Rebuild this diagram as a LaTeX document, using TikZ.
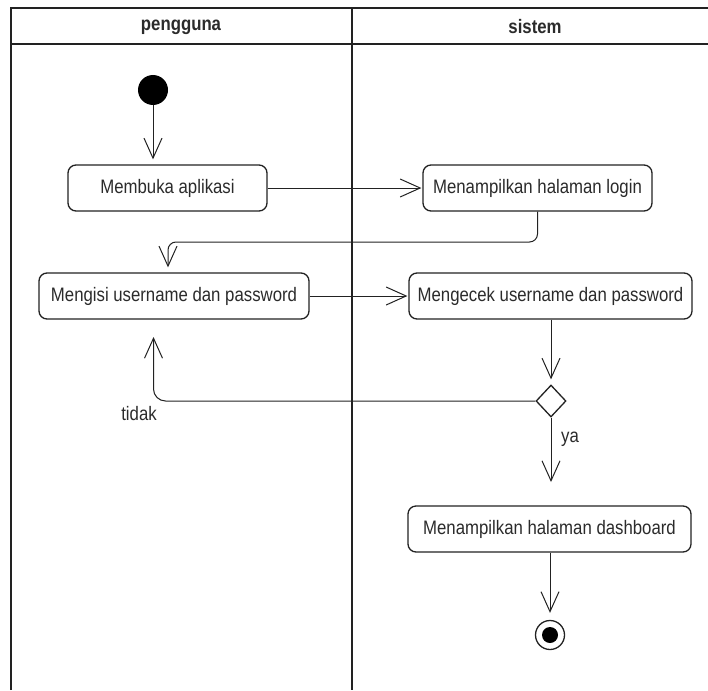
\documentclass[tikz,border=0pt]{standalone}
\usepackage{fontspec}
\setmainfont{Liberation Sans}
\usetikzlibrary{arrows.meta,shapes.geometric}
\definecolor{ink}{HTML}{222222}
\definecolor{txt}{HTML}{2B2B2B}
% narrow text, as set by the diagram editor
\newcommand\narrow[1]{\scalebox{0.86}[1]{#1}}
\begin{document}
\begin{tikzpicture}[x=1pt,y=-1pt,
  every node/.style={font=\fontsize{19.5}{22}\selectfont, text=txt},
  action/.style={draw=ink, line width=1.3pt, rounded corners=8pt, inner sep=0pt, minimum height=46pt},
  flow/.style={draw=ink, line width=1pt, -{Straight Barb[length=20pt, width=18pt, line width=1pt]}},
  lane/.style={draw=ink, line width=1.6pt},
  lanetitle/.style={font=\fontsize{19.5}{22}\selectfont\bfseries, text=txt}]
\useasboundingbox (0,0) rectangle (708,690);
\fill[white] (0,0) rectangle (708,690);

% swimlanes
\draw[lane] (11,690) -- (11,8) -- (708,8);
\draw[lane] (11,44) -- (708,44);
\draw[lane] (352,8) -- (352,690);
\node[lanetitle] (lane1) at (181,27) {\narrow{pengguna}};
\node[lanetitle] (lane2) at (535,27) {\narrow{sistem}};

% activities
\node[circle, fill=black, minimum size=30pt, inner sep=0pt] (start) at (153,90) {};
\node[action, minimum width=199pt] (buka) at (167.5,188) {\narrow{Membuka aplikasi}};
\node[action, minimum width=229pt] (login) at (537.5,188) {\narrow{Menampilkan halaman login}};
\node[action, minimum width=270pt] (isi) at (174,296) {\narrow{Mengisi username dan password}};
\node[action, minimum width=283pt] (cek) at (550.5,296) {\narrow{Mengecek username dan password}};
\node[diamond, draw=ink, line width=1.3pt, fill=white, minimum width=30pt, minimum height=32pt, inner sep=0pt] (valid) at (551,401) {};
\node[action, minimum width=283pt] (dash) at (549.5,529) {\narrow{Menampilkan halaman dashboard}};
\node[circle, draw=ink, line width=1.3pt, minimum size=29pt, inner sep=0pt] (end) at (550,635) {};
\node[circle, fill=black, minimum size=16pt, inner sep=0pt] (endcore) at (end) {};

% connector end points
\coordinate (backbend) at (168,242);
\coordinate (retry) at (153.5,401);
\coordinate (retryend) at (153.5,337);
\coordinate (okend) at (551,482);

% flows
\draw[flow, shorten >=5pt] (start) -- (start |- buka.north);
\draw[flow, shorten >=1pt] (buka) -- (login);
\draw[flow, rounded corners=8pt, shorten >=5pt] (login.south) |- (backbend) -- (backbend |- isi.north);
\draw[flow, shorten >=1pt] (isi) -- (cek);
\draw[flow, shorten >=5pt] (cek.south -| valid) -- (valid.north);
\draw[flow, rounded corners=12pt] (valid.west) -- (retry) -- (retryend);
\draw[flow] (valid.south) -- (okend);
\draw[flow, shorten >=7pt] (dash.south -| end) -- (end.north);

% guard labels
\node (tidak) at (139,414) {\narrow{tidak}};
\node (ya) at (570,439) {\narrow{ya}};
\end{tikzpicture}
\end{document}
